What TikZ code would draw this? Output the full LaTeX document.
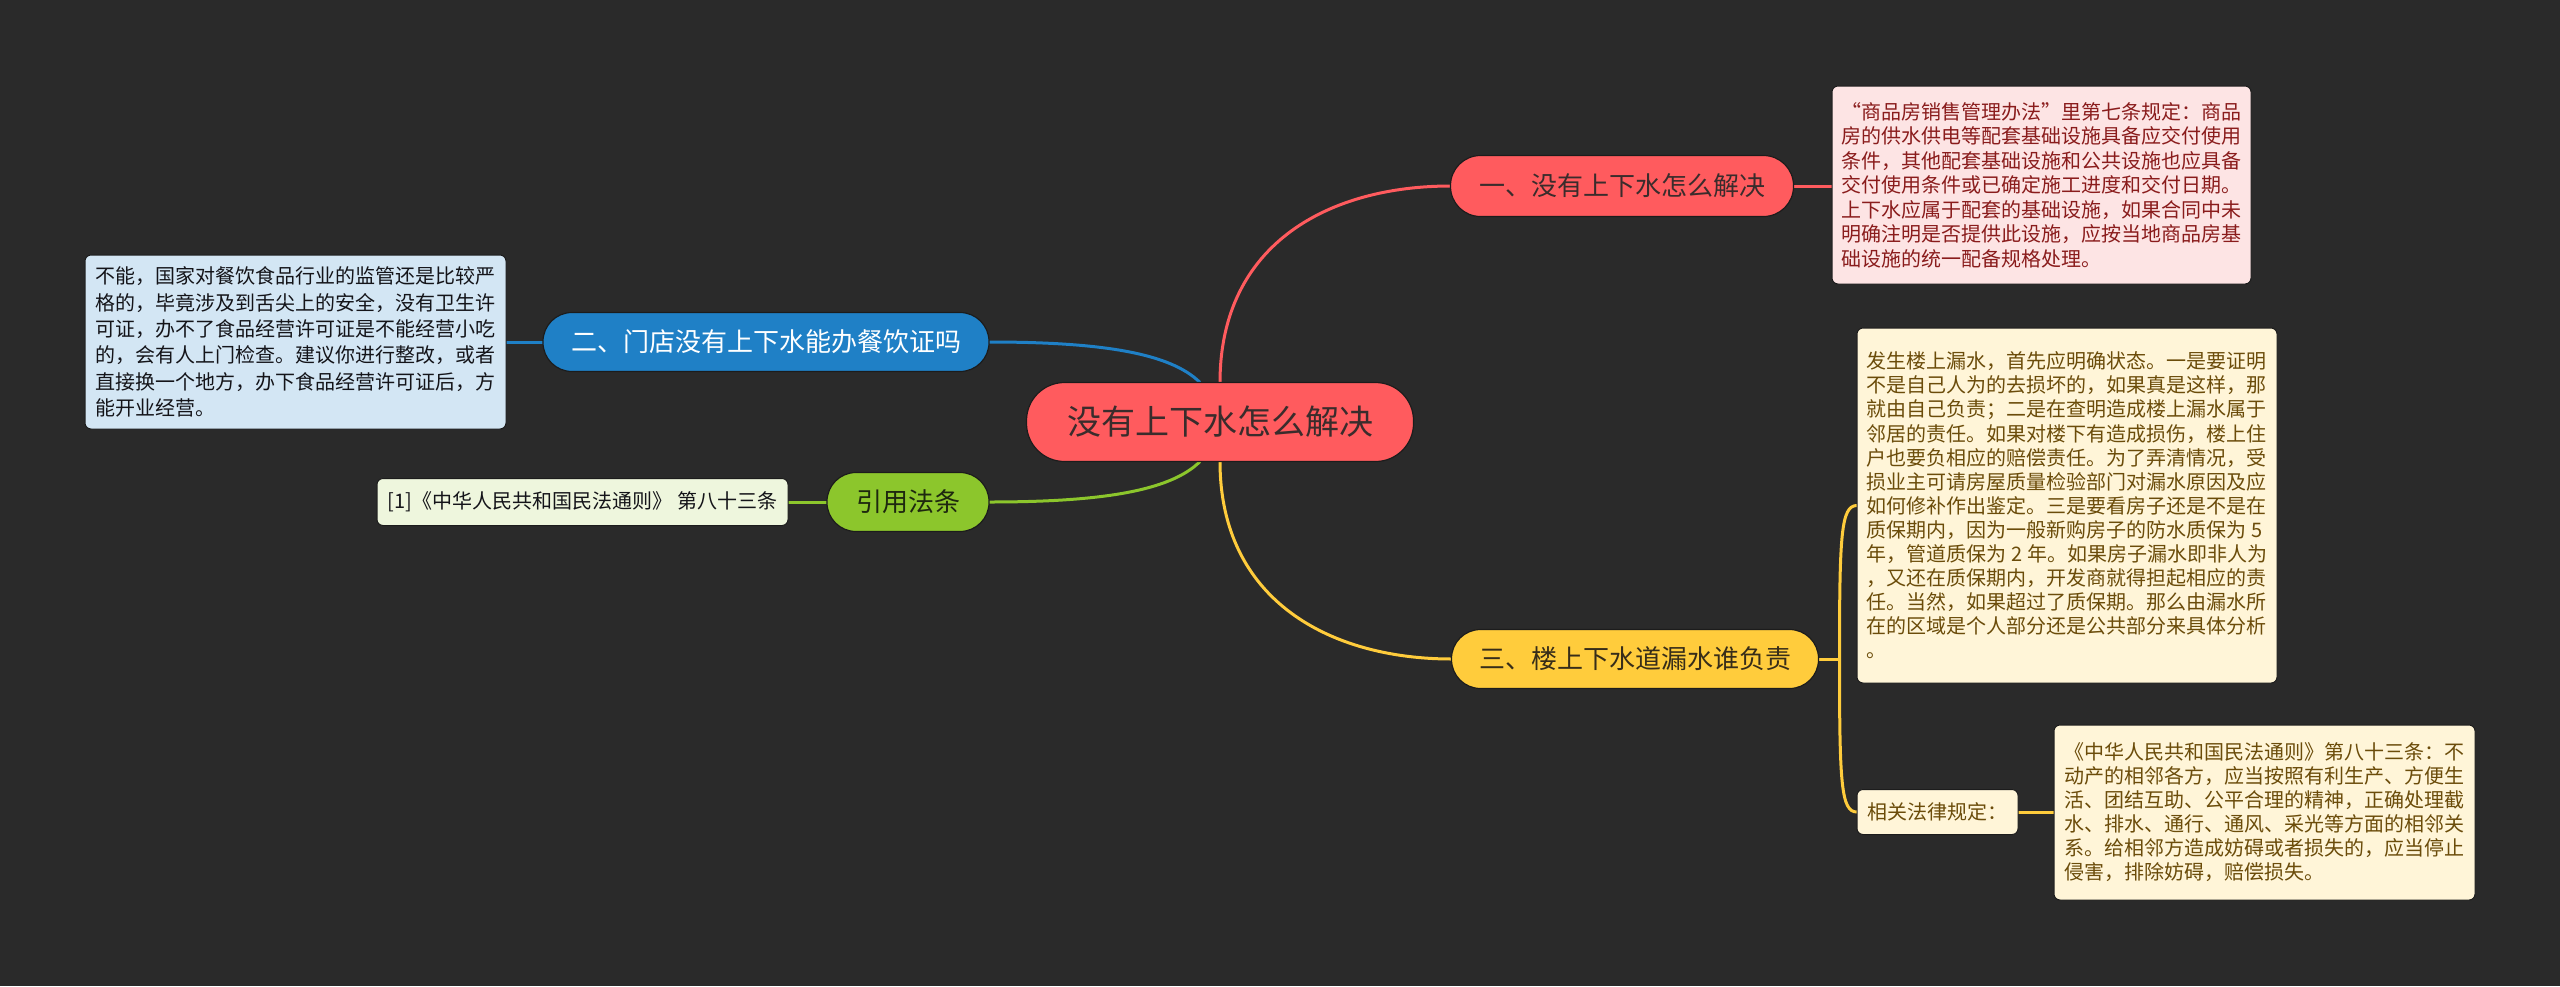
\documentclass[tikz,border=0pt]{standalone}
\usepackage{fontspec}
\setmainfont{Noto Sans CJK SC}
\usetikzlibrary{calc}
\pgfdeclarelayer{bg}
\pgfsetlayers{bg,main}
\definecolor{bgc}{HTML}{2A2A2A}
\definecolor{edge}{HTML}{1C1C1C}
\definecolor{cRed}{HTML}{FF5B5E}
\definecolor{cRedLeaf}{HTML}{FDE4E4}
\definecolor{cRedText}{HTML}{8A1C1C}
\definecolor{cBlue}{HTML}{1F80C6}
\definecolor{cBlueLeaf}{HTML}{D3E6F4}
\definecolor{cGreen}{HTML}{8CC62C}
\definecolor{cGreenLeaf}{HTML}{EEF6DD}
\definecolor{cYellow}{HTML}{FFCC3C}
\definecolor{cYellowLeaf}{HTML}{FFF5D8}
\definecolor{cYellowText}{HTML}{6B4C0A}
\definecolor{cDark}{HTML}{3A2C2C}
\definecolor{cGreenText}{HTML}{1E280F}
\definecolor{cYellowDark}{HTML}{372D19}
\definecolor{cLeafDark}{HTML}{141419}
\begin{document}
\begin{tikzpicture}[x=1pt,y=-1pt,
  every node/.style={inner sep=0pt, outer sep=0pt},
  rootbox/.style={fill=cRed, draw=edge, line width=1.2pt, rounded corners=38pt,
    minimum width=387pt, minimum height=79pt, text=cDark,
    font=\fontsize{34}{40}\selectfont},
  branchbox/.style={draw=edge, line width=1.2pt, rounded corners=29pt,
    minimum height=59pt, font=\fontsize{26}{30}\selectfont},
  leafbox/.style={draw=edge, line width=1pt, rounded corners=6pt, align=left,
    font=\fontsize{20}{24.5}\selectfont},
  link/.style={line width=3pt}
]
\begin{pgfonlayer}{bg}
\fill[bgc] (0,0) rectangle (2560,986);
\end{pgfonlayer}
\useasboundingbox (0,0) rectangle (2560,986);

% root
\node[rootbox] (c) at (1220,422) {没有上下水怎么解决};

% branches
\node[branchbox, fill=cRed, text=cDark, minimum width=343pt, minimum height=61pt, rounded corners=30pt] (b1) at (1622,186) {一、没有上下水怎么解决};
\node[branchbox, fill=cBlue, text=white, minimum width=446pt] (b2) at (766,342) {二、门店没有上下水能办餐饮证吗};
\node[branchbox, fill=cGreen, text=cGreenText, minimum width=162pt] (g) at (908,502) {引用法条};
\node[branchbox, fill=cYellow, text=cYellowDark, minimum width=367pt] (b3) at (1635,659) {三、楼上下水道漏水谁负责};

% leaves
\node[leafbox, fill=cRedLeaf, text=cRedText, minimum width=419pt, minimum height=198pt] (l1) at (2041.5,185) {“商品房销售管理办法”里第七条规定：商品\\
房的供水供电等配套基础设施具备应交付使用\\
条件，其他配套基础设施和公共设施也应具备\\
交付使用条件或已确定施工进度和交付日期。\\
上下水应属于配套的基础设施，如果合同中未\\
明确注明是否提供此设施，应按当地商品房基\\
础设施的统一配备规格处理。};

\node[leafbox, fill=cBlueLeaf, text=cLeafDark, minimum width=421pt, minimum height=174pt, font=\fontsize{20}{26.3}\selectfont] (l2) at (295.5,342) {不能，国家对餐饮食品行业的监管还是比较严\\
格的，毕竟涉及到舌尖上的安全，没有卫生许\\
可证，办不了食品经营许可证是不能经营小吃\\
的，会有人上门检查。建议你进行整改，或者\\
直接换一个地方，办下食品经营许可证后，方\\
能开业经营。};

\node[leafbox, fill=cGreenLeaf, text=cLeafDark, minimum width=411pt, minimum height=47pt] (gl) at (582.5,502) {[1]《中华人民共和国民法通则》 第八十三条};

\node[leafbox, fill=cYellowLeaf, text=cYellowText, minimum width=420pt, minimum height=355pt, font=\fontsize{20}{24.1}\selectfont] (y1) at (2067,505.5) {发生楼上漏水，首先应明确状态。一是要证明\\
不是自己人为的去损坏的，如果真是这样，那\\
就由自己负责；二是在查明造成楼上漏水属于\\
邻居的责任。如果对楼下有造成损伤，楼上住\\
户也要负相应的赔偿责任。为了弄清情况，受\\
损业主可请房屋质量检验部门对漏水原因及应\\
如何修补作出鉴定。三是要看房子还是不是在\\
质保期内，因为一般新购房子的防水质保为 5\\
年，管道质保为 2 年。如果房子漏水即非人为\\
，又还在质保期内，开发商就得担起相应的责\\
任。当然，如果超过了质保期。那么由漏水所\\
在的区域是个人部分还是公共部分来具体分析\\
。};

\node[leafbox, fill=cYellowLeaf, text=cYellowText, minimum width=161pt, minimum height=45pt] (law) at (1937.5,812) {相关法律规定：};

\node[leafbox, fill=cYellowLeaf, text=cYellowText, minimum width=421pt, minimum height=175pt, font=\fontsize{20}{24}\selectfont] (y2) at (2264.5,812.5) {《中华人民共和国民法通则》第八十三条：不\\
动产的相邻各方，应当按照有利生产、方便生\\
活、团结互助、公平合理的精神，正确处理截\\
水、排水、通行、通风、采光等方面的相邻关\\
系。给相邻方造成妨碍或者损失的，应当停止\\
侵害，排除妨碍，赔偿损失。};

% connector anchors
\coordinate (cbl) at ([xshift=-20pt]c.north);
\coordinate (cgl) at ([xshift=-20pt]c.south);
\coordinate (j) at ([xshift=21pt]b3.east);

\begin{pgfonlayer}{bg}
% root connectors
\draw[link, cRed] (c.north) .. controls +(0,-140) and +(-120,0) .. (b1.west);
\draw[link, cYellow] (c.south) .. controls +(0,140) and +(-120,0) .. (b3.west);
\draw[link, cBlue] (cbl) .. controls +(-30,-30) and +(110,0) .. (b2.east);
\draw[link, cGreen] (cgl) .. controls +(-30,30) and +(110,0) .. (g.east);
% leaf connectors
\draw[link, cRed] (b1.east) -- (b1.east -| l1.west);
\draw[link, cBlue] (b2.west) -- (b2.west -| l2.east);
\draw[link, cGreen] (g.west) -- (g.west -| gl.east);
\draw[link, cYellow] (b3.east) -- (j);
\draw[link, cYellow] (j) .. controls +(0,-125) and +(-16,0) .. (y1.west);
\draw[link, cYellow] (j) .. controls +(0,125) and +(-16,0) .. (law.west);
\draw[link, cYellow] (law.east) -- (law.east -| y2.west);
\end{pgfonlayer}
\end{tikzpicture}
\end{document}
